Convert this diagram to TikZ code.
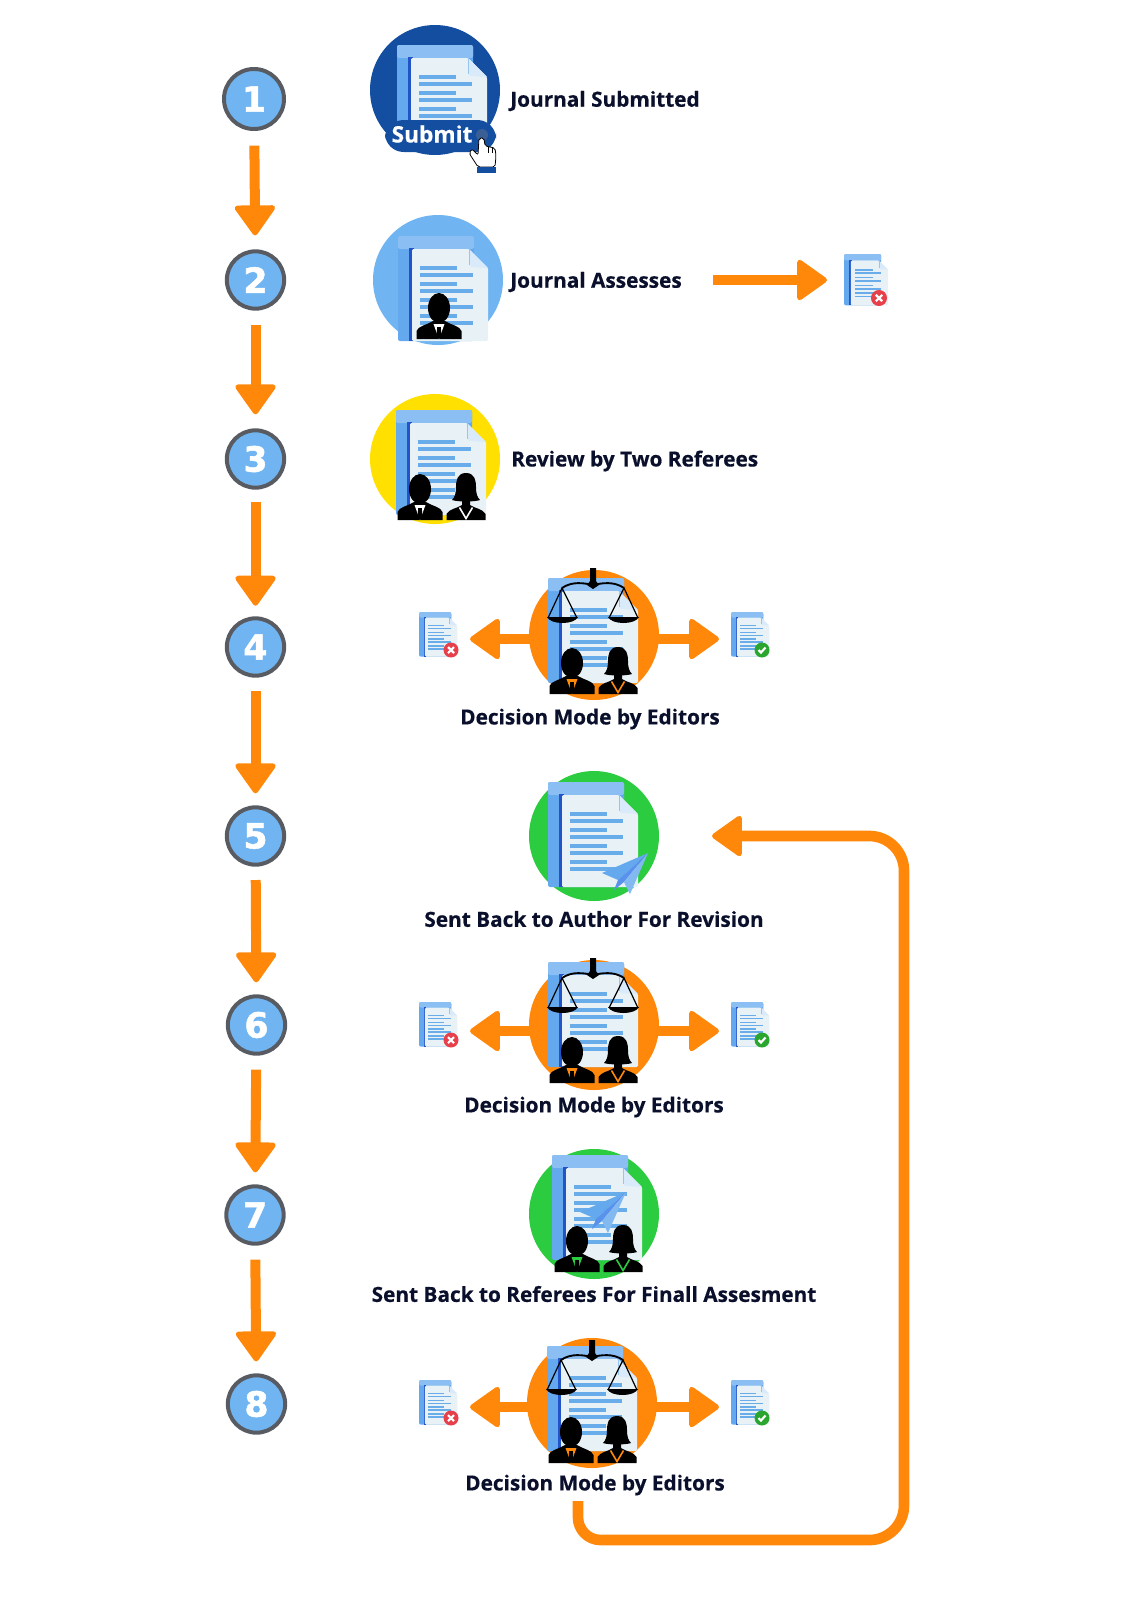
\documentclass[tikz,border=0pt]{standalone}
\usepackage{fontspec}
\setmainfont[BoldFeatures={FakeBold=0.5}]{Open Sans}
\newfontfamily\numfont[BoldFeatures={FakeBold=1.5}]{DejaVu Sans}
\usetikzlibrary{arrows.meta}
\definecolor{flowcol}{RGB}{255,136,10}
\definecolor{navycol}{RGB}{20,78,160}
\definecolor{skycol}{RGB}{112,181,241}
\definecolor{suncol}{RGB}{255,224,0}
\definecolor{leafcol}{RGB}{44,204,64}
\definecolor{ringcol}{RGB}{88,92,98}
\definecolor{inkcol}{RGB}{10,16,44}
\definecolor{foldercol}{RGB}{100,168,238}
\definecolor{stripcol}{RGB}{34,84,200}
\definecolor{papercol}{RGB}{232,242,246}
\definecolor{linecol}{RGB}{104,172,234}
\definecolor{badcol}{RGB}{232,64,74}
\definecolor{goodcol}{RGB}{42,165,46}
\tikzset{
    stepnum/.style={circle, draw=ringcol, line width=3pt, fill=skycol, text=white, minimum size=43pt, inner sep=0pt, font=\numfont\bfseries\fontsize{26}{26}\selectfont},
    bigdisc/.style={circle, minimum size=97.5pt, inner sep=0pt},
    flowarrow/.style={draw=flowcol, line width=7.5pt, -{Triangle[width=33pt,length=24pt,round,line width=4pt]}},
    looparrow/.style={flowarrow, line width=8pt},
    caption/.style={font=\bfseries\fontsize{15.6}{18}\selectfont, text=inkcol, inner sep=0pt},
    docicon/.pic={
        \fill[foldercol, rounded corners=1.5pt] (0,0) rectangle (76,105);
        \fill[foldercol!75!white, rounded corners=1.5pt] (0,0) rectangle (76,13);
        \fill[stripcol] (11,12) rectangle (16,105);
        \fill[papercol, rounded corners=1pt] (14,13) -- (71,13) -- (90,32) -- (90,105) -- (14,105) -- cycle;
        \fill[white!75!linecol] (71,13) -- (71,28) -- (73,31) -- (90,32) -- cycle;
        \fill[linecol!70!white] (70.5,13) rectangle (72,29);
        \foreach \yy in {32,48,64,80} {
            \fill[linecol] (22,\yy-1.7) rectangle (59,\yy+1.7);
            \fill[linecol] (22,\yy+5.3) rectangle (75,\yy+8.7);
        }
    },
    badbadge/.pic={
        \fill[badcol] (0,0) circle (7.5);
        \draw[white, line width=1.6pt] (-3,-3) -- (3,3) (-3,3) -- (3,-3);
    },
    goodbadge/.pic={
        \fill[goodcol] (0,0) circle (7.5);
        \draw[white, line width=1.6pt] (-3.5,0) -- (-1,2.5) -- (3.5,-2.5);
    },
    manpic/.pic={
        \fill[black] (0,-31) ellipse (11 and 15);
        \fill[black] (-22.5,0) -- (-22.5,-8) .. controls (-21,-13) and (-12,-14) .. (-6,-18) -- (6,-18) .. controls (12,-14) and (21,-13) .. (22.5,-8) -- (22.5,0) -- cycle;
        \fill[#1] (-5.5,-15) -- (5.5,-15) -- (0,0) -- cycle;
        \fill[black] (-1.8,-12) -- (1.8,-12) -- (2.4,-3) -- (0,0) -- (-2.4,-3) -- cycle;
    },
    womanpic/.pic={
        \fill[black] (0,-47) .. controls (-9,-47) and (-10,-39) .. (-10,-33) .. controls (-10,-27) and (-11,-23) .. (-14,-20) .. controls (-8,-18) and (8,-18) .. (14,-20) .. controls (11,-23) and (10,-27) .. (10,-33) .. controls (10,-39) and (9,-47) .. (0,-47) -- cycle;
        \fill[black] (-19.5,0) -- (-19.5,-6) .. controls (-17,-11) and (-8,-12) .. (-4,-15) -- (-4,-20) -- (4,-20) -- (4,-15) .. controls (8,-12) and (17,-11) .. (19.5,-6) -- (19.5,0) -- cycle;
        \draw[#1, line width=1.2pt] (-6.5,-12.5) -- (0,-1.5) -- (6.5,-12.5);
    },
    balancepic/.pic={
        \fill[black] (42,-10) -- (48,-10) -- (48,3) -- (51,7) -- (45,11) -- (39,7) -- (42,3) -- cycle;
        \draw[black, line width=1.4pt] (14,10) .. controls (24,3) and (36,5) .. (45,7) .. controls (54,5) and (66,3) .. (76,10);
        \draw[black, line width=0.9pt] (0,40) -- (14,10) -- (29,40) (61,40) -- (76,10) -- (90,40);
        \fill[black] (-1,39) -- (30,39) .. controls (26,47) and (3,47) .. (-1,39) -- cycle;
        \fill[black] (60,39) -- (91,39) .. controls (87,47) and (64,47) .. (60,39) -- cycle;
    },
    planepic/.pic={
        \fill[foldercol] (0,0) -- (-46,20) -- (-30,27) -- cycle;
        \fill[linecol!85!blue] (0,0) -- (-30,27) -- (-34,37) -- (-24,29) -- cycle;
        \fill[foldercol!80!white] (0,0) -- (-24,29) -- (-18,41) -- cycle;
    },
}
\begin{document}
\begin{tikzpicture}[x=0.75pt, y=-0.75pt]
    \useasboundingbox (0,0) rectangle (1131,1600);

    % Numbered steps down the left side
    \node[stepnum, minimum size=45pt] (n1) at (254,99) {1};
    \node[stepnum] (n2) at (255.5,280) {2};
    \node[stepnum] (n3) at (255.5,459) {3};
    \node[stepnum] (n4) at (255.5,647) {4};
    \node[stepnum] (n5) at (255.5,836) {5};
    \node[stepnum] (n6) at (256.5,1025) {6};
    \node[stepnum] (n7) at (255,1215) {7};
    \node[stepnum] (n8) at (256.5,1404) {8};

    \foreach \a/\b/\s/\e in {n1/n2/11/10.5, n2/n3/11/10.5, n3/n4/9/8, n4/n5/10/9, n5/n6/10/9, n6/n7/10.5/9, n7/n8/10.5/9} {
        \draw[flowarrow, shorten <=\s pt, shorten >=\e pt] (\a) -- (\b);
    }

    % Discs behind the icons
    \node[bigdisc, fill=navycol] (c1) at (435,90) {};
    \node[bigdisc, fill=skycol] (c2) at (438,280) {};
    \node[bigdisc, fill=suncol] (c3) at (435,459) {};
    \node[bigdisc, fill=flowcol] (c4) at (594,635) {};
    \node[bigdisc, fill=leafcol] (c5) at (594,836) {};
    \node[bigdisc, fill=flowcol] (c6) at (594,1025) {};
    \node[bigdisc, fill=leafcol] (c7) at (594,1214) {};
    \node[bigdisc, fill=flowcol] (c8) at (592,1403) {};

    % Arrows out to the small documents
    \coordinate (s2) at (713,280);
    \coordinate (t2) at (827,280);
    \draw[flowarrow] (s2) -- (t2);
    \coordinate (l4) at (470,639);
    \coordinate (r4) at (719,639);
    \draw[flowarrow] (c4 |- l4) -- (l4);
    \draw[flowarrow] (c4 |- r4) -- (r4);
    \coordinate (l6) at (470,1031);
    \coordinate (r6) at (719,1031);
    \draw[flowarrow] (c6 |- l6) -- (l6);
    \draw[flowarrow] (c6 |- r6) -- (r6);
    \coordinate (l8) at (470,1407);
    \coordinate (r8) at (719,1407);
    \draw[flowarrow] (c8 |- l8) -- (l8);
    \draw[flowarrow] (c8 |- r8) -- (r8);

    % Loop from the last decision back to revision
    \coordinate (loopstart) at (578,1501);
    \coordinate (loopend) at (712,836);
    \draw[looparrow] (loopstart) [rounded corners=17pt] -- (578,1540) [rounded corners=26pt] -- (904,1540) -- (904,836) -- (loopend);

    % Icon 1
    \pic at (397,45) {docicon};
    \fill[navycol, rounded corners=14pt] (385,120) rectangle (496,152);
    \fill[navycol] (420,120) rectangle (480,152);
    \node[font=\bfseries\fontsize{17}{17}\selectfont, text=white, inner sep=0pt] (submit) at (432,134) {Submit};
    \fill[navycol!65!gray] (482,135) circle (6);
    \draw[black, line width=0.6pt, fill=white, rounded corners=1.5pt] (478,167) -- (469,153) -- (472,149) -- (478,155) -- (479,138) -- (484,138) -- (485,146) -- (495,148) -- (496,156) -- (495,167) -- cycle;
    \draw[black, line width=0.5pt] (488,147) -- (488,153) (492,148) -- (492,153);
    \fill[navycol] (477,167) rectangle (496,173);

    % Icon 2
    \pic at (398,236) {docicon};
    \pic at (439,339) {manpic=white};

    % Icon 3
    \pic at (396,410) {docicon};
    \pic at (420,520) {manpic=white};
    \pic at (466,520) {womanpic=white};

    % Icon 4
    \pic at (548,578) {docicon};
    \pic at (548,578) {balancepic};
    \pic at (572,694) {manpic=flowcol};
    \pic at (618,694) {womanpic=flowcol};

    % Icon 5
    \pic at (548,782) {docicon};
    \pic at (648,853) {planepic};

    % Icon 6
    \pic at (548,962) {docicon};
    \pic at (548,968) {balancepic};
    \pic at (572,1083) {manpic=flowcol};
    \pic at (618,1083) {womanpic=flowcol};

    % Icon 7
    \pic at (552,1155) {docicon};
    \pic at (626,1192) {planepic};
    \pic at (577,1272) {manpic=leafcol};
    \pic at (623,1272) {womanpic=leafcol};

    % Icon 8
    \pic at (547,1346) {docicon};
    \pic at (547,1350) {balancepic};
    \pic at (571,1463) {manpic=flowcol};
    \pic at (617,1463) {womanpic=flowcol};

    % Small documents
    \pic[scale=0.49] at (844,254) {docicon};
    \pic[scale=1.07] at (879,298) {badbadge};
    \pic[scale=0.425] at (419,612) {docicon};
    \pic at (451,650) {badbadge};
    \pic[scale=0.425] at (731,612) {docicon};
    \pic at (762,650) {goodbadge};
    \pic[scale=0.425] at (419,1002) {docicon};
    \pic at (451,1040) {badbadge};
    \pic[scale=0.425] at (731,1002) {docicon};
    \pic at (762,1040) {goodbadge};
    \pic[scale=0.425] at (419,1380) {docicon};
    \pic at (451,1418) {badbadge};
    \pic[scale=0.425] at (731,1380) {docicon};
    \pic at (762,1418) {goodbadge};

    % Captions
    \node[caption, anchor=west] (t1) at (510,101) {Journal Submitted};
    \node[caption, anchor=west] (t2a) at (510,282) {Journal Assesses};
    \node[caption, anchor=west] (t3) at (511,461) {Review by Two Referees};
    \node[caption] (t4) at (590,719) {Decision Mode by Editors};
    \node[caption] (t5) at (594,919) {Sent Back to Author For Revision};
    \node[caption] (t6) at (594,1107) {Decision Mode by Editors};
    \node[caption] (t7) at (594,1294) {Sent Back to Referees For Finall Assesment};
    \node[caption] (t8) at (595,1485) {Decision Mode by Editors};

\end{tikzpicture}
\end{document}
